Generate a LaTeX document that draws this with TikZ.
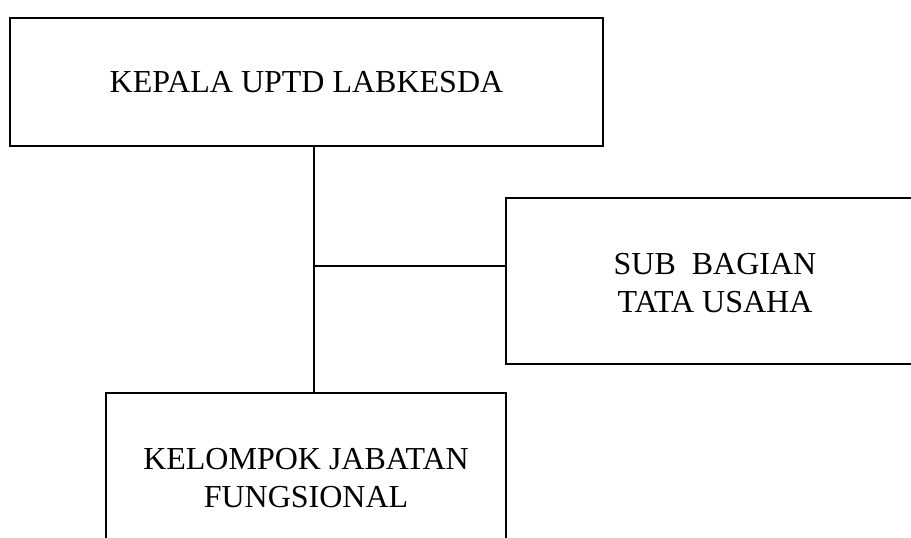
\documentclass[tikz,border=0pt]{standalone}
\usepackage{fontspec}
\setmainfont{Liberation Serif}
\begin{document}
\begin{tikzpicture}[x=1pt,y=-1pt,
  box/.style={draw,line width=1.5pt,inner sep=0pt,align=center,font=\fontsize{32}{38}\selectfont},
  conn/.style={line width=1.5pt}]
\useasboundingbox (0,0) rectangle (911,538);
\begin{scope}
\clip (0,0) rectangle (911,538);
\node[box,minimum width=593pt,minimum height=128pt] (top) at (306.5,82) {KEPALA UPTD LABKESDA};
\node[box,minimum width=418pt,minimum height=166pt] (sub) at (715,281) {\rule{0pt}{26pt}SUB\ \ BAGIAN\\TATA USAHA};
\node[box,minimum width=400pt,minimum height=170pt] (bot) at (306,478) {KELOMPOK JABATAN\\FUNGSIONAL};
\end{scope}
\coordinate (j) at (314,266);
\draw[conn] (j |- top.south) -- (j |- bot.north);
\draw[conn] (j) -- (j -| sub.west);
\end{tikzpicture}
\end{document}
